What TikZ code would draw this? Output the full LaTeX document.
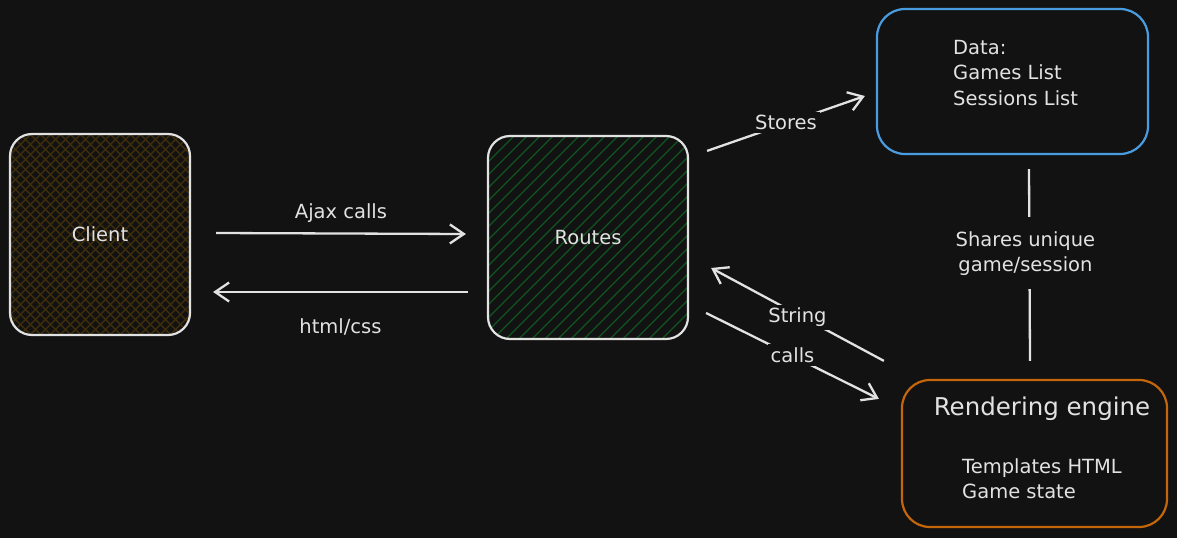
\documentclass[tikz,border=0pt]{standalone}
\usepackage{fontspec}
\setmainfont{DejaVu Sans}
\usetikzlibrary{arrows.meta}
\definecolor{bg}{HTML}{121212}
\definecolor{fg}{HTML}{E2E2E2}
\definecolor{blu}{HTML}{4A9CE0}
\definecolor{org}{HTML}{C4660A}
\definecolor{brn}{HTML}{42300A}
\definecolor{grn}{HTML}{0F5522}
\tikzset{
  box/.style={draw=fg, line width=2.2pt, rounded corners=22pt, text=fg, font=\fontsize{19.5}{22}\selectfont, inner sep=0pt},
  txt/.style={text=fg, font=\fontsize{19.5}{25.5}\selectfont, align=left, inner sep=0pt},
  arr/.style={draw=fg, line width=2.3pt, -{Straight Barb[length=14pt,width=19pt,line width=2.3pt]}},
  conn/.style={draw=fg, line width=2.3pt},
  lab/.style={fill=bg, text=fg, font=\fontsize{19.5}{25}\selectfont, inner sep=3pt, align=center}
}
\begin{document}
\begin{tikzpicture}[x=1pt,y=-1pt]
\fill[bg] (0,0) rectangle (1177,538);
\useasboundingbox (0,0) rectangle (1177,538);

% Client hatch
\begin{scope}
\clip[rounded corners=22pt] (10,134) rectangle (190,335);
\foreach \i in {-200,-190,...,190} {
  \draw[brn, line width=1.4pt] (\i,134) -- ++(201,201);
  \draw[brn, line width=1.4pt] (\i,335) -- ++(201,-201);
}
\end{scope}
% Routes hatch
\begin{scope}
\clip[rounded corners=22pt] (488,136) rectangle (688,339);
\foreach \i in {285,298,...,688} {
  \draw[grn, line width=1.3pt] (\i,339) -- ++(203,-203);
}
\end{scope}

\node[box, minimum width=180pt, minimum height=201pt] (client) at (100,234.5) {Client};
\node[box, minimum width=200pt, minimum height=203pt] (routes) at (588,237.5) {Routes};
\node[box, draw=blu, rounded corners=28pt, minimum width=271pt, minimum height=145pt] (data) at (1012.5,81.5) {};
\node[txt, anchor=north west] (datatxt) at (953,40) {Data:\\Games List\\Sessions List};
\node[box, draw=org, rounded corners=28pt, minimum width=265pt, minimum height=147pt] (rend) at (1034.5,453.5) {};
\node[text=fg, font=\fontsize{24.5}{28}\selectfont, inner sep=0pt] (rtitle) at (1042,409) {Rendering engine};
\node[txt, anchor=north west] (rtxt) at (962,458) {Templates HTML\\Game state};

% Ajax / html
\draw[arr] ([shift={(25,-1.5)}]client.east) -- node[lab, above=7pt, fill=none] (ajax) {Ajax calls} ([shift={(-21,-3.5)}]routes.west);
\draw[arr] ([shift={(-19,54.5)}]routes.west) -- node[lab, below=23pt, fill=none] (html) {html/css} ([shift={(22,57.5)}]client.east);

% Stores
\draw[arr] ([shift={(18,16)}]routes.north east) -- node[lab, pos=0.5, yshift=1pt] (stores) {Stores} ([shift={(-11,14.5)}]data.west);
% String
\draw[arr] ([shift={(-17,-18)}]rend.north west) -- node[lab, pos=0.5, yshift=-3pt] (string) {String} ([shift={(22,30.5)}]routes.east);
% calls
\draw[arr] ([shift={(17,75.5)}]routes.east) -- node[lab, pos=0.5, yshift=1pt] (calls) {calls} ([shift={(-22,20)}]rend.north west);
% Shares
\draw[conn] ([shift={(16.5,14)}]data.south) -- node[lab, pos=0.45, inner ysep=14pt, xshift=-4pt, yshift=2pt] (shares) {Shares unique\\game/session} ([shift={(-4.5,-18)}]rend.north);
\end{tikzpicture}
\end{document}
